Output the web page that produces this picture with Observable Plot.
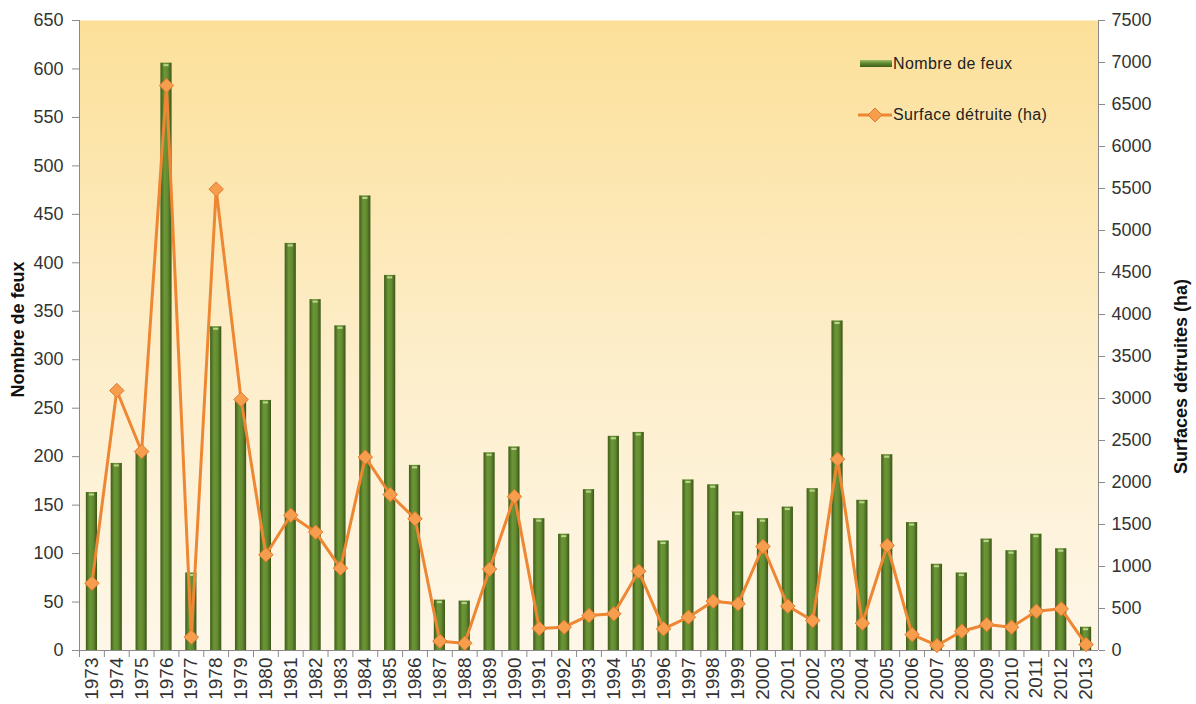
<!DOCTYPE html>
<html><head><meta charset="utf-8">
<script src="https://cdn.jsdelivr.net/npm/d3@7"></script>
<script src="https://cdn.jsdelivr.net/npm/@observablehq/plot@0.6"></script>
<style>body{margin:0;background:#fff;font-family:"Liberation Sans",Arial,sans-serif}</style>
</head><body><div id="chart"></div>
<script>
const years = ["1973","1974","1975","1976","1977","1978","1979","1980","1981","1982","1983","1984","1985","1986","1987","1988","1989","1990","1991","1992","1993","1994","1995","1996","1997","1998","1999","2000","2001","2002","2003","2004","2005","2006","2007","2008","2009","2010","2011","2012","2013"];
const fires = [163,193,205,606,80,334,260,258,420,362,335,469,387,191,52,51,204,210,136,120,166,221,225,113,176,171,143,136,148,167,340,155,202,132,89,80,115,103,120,105,24];
const area = [801,3095,2369,6726,159,5492,2988,1139,1611,1409,980,2302,1857,1568,111,87,968,1833,262,278,417,437,944,258,397,587,556,1238,528,357,2278,325,1250,190,60,230,310,278,468,496,71];
const leftTicks = [0,50,100,150,200,250,300,350,400,450,500,550,600,650];
const rightTicks = [0,500,1000,1500,2000,2500,3000,3500,4000,4500,5000,5500,6000,6500,7000,7500];
const seriesNames = ["Nombre de feux","Surface détruite (ha)"];
const axisTitles = ["Nombre de feux","Surfaces détruites (ha)"];

const W = 1196, H = 704, mL = 79, mR = 98, mT = 20, mB = 54;
const leftMax = 650, rightMax = 7500;
const k = leftMax / rightMax;
const data = years.map((y, i) => ({year: y, fires: fires[i], area: area[i]}));
const step = (W - mL - mR) / years.length;
const font = '"Liberation Sans", Arial, sans-serif';

const plot = Plot.plot({
  width: W, height: H,
  marginLeft: mL, marginRight: mR, marginTop: mT, marginBottom: mB,
  style: {fontFamily: font, fontSize: "17px", color: "#333", background: "transparent", overflow: "visible"},
  x: {type: "band", domain: years, paddingInner: 0.55, paddingOuter: 0.275},
  y: {domain: [0, leftMax]},
  marks: [
    Plot.frame({fill: "url(#bgGrad)", stroke: null}),
    Plot.barY(data, {x: "year", y: "fires", fill: "url(#barGrad)"}),
    Plot.tickY(data, {x: "year", y: "fires", stroke: "#bcd58c", strokeWidth: 2, dy: 2, insetLeft: 3, insetRight: 3}),
    Plot.ruleY([0], {stroke: "#8a8a8a"}),
    Plot.line(data, {x: "year", y: d => d.area * k, stroke: "#EE8733", strokeWidth: 3}),
    Plot.dot(data, {x: "year", y: d => d.area * k, symbol: "diamond2", r: 6.5, fill: "#F79E4E", stroke: "#E27A2C", strokeWidth: 1}),
    Plot.axisY({anchor: "left", ticks: leftTicks, tickSize: 7, tickPadding: 9, label: null, stroke: "#8a8a8a", fill: "#333", fontSize: 18}),
    Plot.axisY({anchor: "right", ticks: rightTicks.map(v => v * k), tickFormat: d => String(Math.round(d / k)), tickSize: 6, tickPadding: 7, label: null, stroke: "#8a8a8a", fill: "#333", fontSize: 18}),
    Plot.axisX({anchor: "bottom", tickSize: 0, tickPadding: 7, tickRotate: -90, label: null, fill: "#333", fontSize: 19}),
    Plot.axisX({anchor: "bottom", tickSize: 7, text: null, dx: -step / 2, label: null, stroke: "#8a8a8a"}),
    Plot.text([axisTitles[0]], {frameAnchor: "left", textAnchor: "middle", dx: -61, dy: -6, rotate: -90, fontWeight: "bold", fontSize: 18, fill: "#111"}),
    Plot.text([axisTitles[1]], {frameAnchor: "right", textAnchor: "middle", dx: 83, dy: 41, rotate: -90, fontWeight: "bold", fontSize: 18, fill: "#111"})
  ]
});

const svg = d3.select(plot);
const defs = svg.insert("defs", ":first-child");
const bg = defs.append("linearGradient").attr("id", "bgGrad").attr("x1", 0).attr("y1", 0).attr("x2", 0).attr("y2", 1);
bg.append("stop").attr("offset", "0%").attr("stop-color", "#FCE099");
bg.append("stop").attr("offset", "55%").attr("stop-color", "#FDEECB");
bg.append("stop").attr("offset", "100%").attr("stop-color", "#FEF7E8");
const bar = defs.append("linearGradient").attr("id", "barGrad").attr("x1", 0).attr("y1", 0).attr("x2", 1).attr("y2", 0);
bar.append("stop").attr("offset", "0%").attr("stop-color", "#3E5C18");
bar.append("stop").attr("offset", "35%").attr("stop-color", "#6B9636");
bar.append("stop").attr("offset", "65%").attr("stop-color", "#648C32");
bar.append("stop").attr("offset", "100%").attr("stop-color", "#3A5616");
const legBar = defs.append("linearGradient").attr("id", "legGrad").attr("x1", 0).attr("y1", 0).attr("x2", 0).attr("y2", 1);
legBar.append("stop").attr("offset", "0%").attr("stop-color", "#9dbd68");
legBar.append("stop").attr("offset", "50%").attr("stop-color", "#5E862F");
legBar.append("stop").attr("offset", "100%").attr("stop-color", "#3E5C18");

// axis lines
svg.append("line").attr("x1", mL + 0.5).attr("x2", mL + 0.5).attr("y1", mT).attr("y2", H - mB).attr("stroke", "#8a8a8a");
svg.append("line").attr("x1", W - mR + 0.5).attr("x2", W - mR + 0.5).attr("y1", mT).attr("y2", H - mB).attr("stroke", "#8a8a8a");

// legend
const lg = svg.append("g").attr("font-family", font).attr("font-size", 16).attr("fill", "#222").attr("text-anchor", "start");
lg.append("rect").attr("x", 860).attr("y", 60).attr("width", 32).attr("height", 7).attr("fill", "url(#legGrad)");
lg.append("text").attr("x", 893).attr("y", 69).attr("text-anchor", "start").attr("letter-spacing", 0.4).text(seriesNames[0]);
lg.append("line").attr("x1", 858).attr("x2", 892).attr("y1", 115).attr("y2", 115).attr("stroke", "#EE8733").attr("stroke-width", 3);
lg.append("path").attr("d", "M875,108L882,115L875,122L868,115Z").attr("fill", "#F79E4E").attr("stroke", "#E27A2C");
lg.append("text").attr("x", 893).attr("y", 120).attr("text-anchor", "start").attr("letter-spacing", 0.4).text(seriesNames[1]);

document.getElementById("chart").appendChild(plot);
</script>
</body></html>
